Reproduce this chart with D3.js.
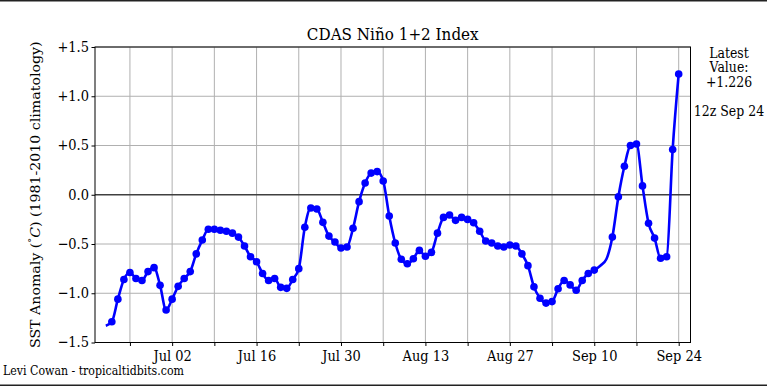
<!DOCTYPE html>
<html>
<head>
<meta charset="utf-8">
<script src="https://cdn.jsdelivr.net/npm/d3@7"></script>
<style>
  body { margin: 0; background: #fff; }
  svg text { font-family: "DejaVu Serif", serif; fill: #000; }
</style>
</head>
<body>
<div id="chart"></div>
<script>
// Daily 12z values, starting Jun 21
const startDay = "2025-06-21T12:00:00Z";
const anomalies = [
  -1.33, -1.29, -1.06, -0.86, -0.79, -0.85, -0.87, -0.78, -0.74, -0.92,
  -1.17, -1.06, -0.93, -0.85, -0.78, -0.60, -0.46, -0.35, -0.35, -0.36,
  -0.37, -0.39, -0.43, -0.52, -0.63, -0.68, -0.80, -0.87, -0.85, -0.94,
  -0.95, -0.86, -0.75, -0.33, -0.135, -0.145, -0.28, -0.42, -0.48, -0.54,
  -0.53, -0.34, -0.07, 0.12, 0.22, 0.235, 0.14, -0.215, -0.49, -0.655,
  -0.70, -0.65, -0.565, -0.625, -0.585, -0.39, -0.23, -0.205, -0.26, -0.23,
  -0.25, -0.285, -0.37, -0.47, -0.49, -0.52, -0.53, -0.51, -0.52, -0.60,
  -0.72, -0.935, -1.05, -1.10, -1.085, -0.955, -0.87, -0.915, -0.97, -0.87,
  -0.80, -0.765, -0.72, -0.655, -0.43, -0.02, 0.29, 0.50, 0.515, 0.09,
  -0.29, -0.44, -0.645, -0.63, 0.46, 1.226
];
// days drawn in the line but without a marker
const noMarkerDays = ["Jun 21", "Sep 11", "Sep 12"];

const xDomain = ["2025-06-19T17:00:00Z", "2025-09-26T11:00:00Z"];
const tickStart = "2025-06-25T12:00:00Z";
const tickCount = 14;
const yTicks = [-1.5, -1.0, -0.5, 0.0, 0.5, 1.0, 1.5];
const latestText = ["Latest", "Value:", "+1.226", "", "12z Sep 24"];

const width = 767, height = 386;
const margin = { top: 47, right: 76.5, bottom: 43.5, left: 95 };
const stretch = 1.12; // text in the picture is a bit taller than wide

const fmtDay = d3.utcFormat("%b %d");
const data = anomalies.map((v, i) => {
  const date = d3.utcDay.offset(new Date(startDay), i);
  return { date, value: v, marker: !noMarkerDays.includes(fmtDay(date)) };
});

const svg = d3.select("#chart").append("svg").attr("width", width).attr("height", height);

const x = d3.scaleUtc().domain(xDomain.map((d) => new Date(d))).range([margin.left, width - margin.right]);
const y = d3.scaleLinear().domain([-1.5, 1.5]).range([height - margin.bottom, margin.top]);

// weekly ticks, labels every other one
const weekTicks = d3.range(tickCount).map((i) => d3.utcDay.offset(new Date(tickStart), i * 7));

// grid
svg.append("g")
  .selectAll("line")
  .data(weekTicks)
  .join("line")
  .attr("x1", (d) => x(d)).attr("x2", (d) => x(d))
  .attr("y1", y(1.5)).attr("y2", y(-1.5))
  .attr("stroke", "#b0b0b0").attr("stroke-width", 1);

svg.append("g")
  .selectAll("line")
  .data(yTicks.filter((v) => v !== 0))
  .join("line")
  .attr("x1", x.range()[0]).attr("x2", x.range()[1])
  .attr("y1", (d) => y(d)).attr("y2", (d) => y(d))
  .attr("stroke", "#b0b0b0").attr("stroke-width", 1);

// zero line
svg.append("line")
  .attr("x1", x.range()[0]).attr("x2", x.range()[1])
  .attr("y1", y(0)).attr("y2", y(0))
  .attr("stroke", "#404040").attr("stroke-width", 1.5);

// axes
const xAxis = svg.append("g")
  .attr("transform", `translate(0,${y(-1.5)})`)
  .call(d3.axisBottom(x).tickValues(weekTicks).tickSize(3.5).tickSizeOuter(0)
    .tickFormat((d, i) => (i % 2 === 1 ? fmtDay(d) : "")));
xAxis.select(".domain").remove();
xAxis.selectAll("text").attr("font-size", 13).attr("y", 4).attr("dy", "0.93em")
  .attr("transform", `scale(1,${stretch})`);

const yAxis = svg.append("g")
  .attr("transform", `translate(${x.range()[0]},0)`)
  .call(d3.axisLeft(y).tickValues(yTicks).tickSize(3.5).tickSizeOuter(0)
    .tickFormat((d) => (d > 0 ? "+" : "") + d3.format(".1f")(d)));
yAxis.select(".domain").remove();
yAxis.selectAll("text").attr("font-size", 13).attr("x", -6).attr("dy", "0.3em")
  .attr("transform", `scale(1,${stretch})`);

// frame
svg.append("rect")
  .attr("x", x.range()[0]).attr("y", y(1.5))
  .attr("width", x.range()[1] - x.range()[0]).attr("height", y(-1.5) - y(1.5))
  .attr("fill", "none").attr("stroke", "#000").attr("stroke-width", 1);

// series
const line = d3.line().x((d) => x(d.date)).y((d) => y(d.value)).curve(d3.curveMonotoneX);
svg.append("path")
  .datum(data)
  .attr("d", line)
  .attr("fill", "none").attr("stroke", "#0000ff").attr("stroke-width", 2.6)
  .attr("stroke-linejoin", "round");

svg.append("g")
  .selectAll("circle")
  .data(data.filter((d) => d.marker))
  .join("circle")
  .attr("cx", (d) => x(d.date)).attr("cy", (d) => y(d.value))
  .attr("r", 3.8).attr("fill", "#0000ff");

// texts
function label(px, py, size, str, anchor) {
  return svg.append("text")
    .attr("transform", `translate(${px},${py}) scale(1,${stretch})`)
    .attr("text-anchor", anchor || "middle").attr("font-size", size)
    .text(str);
}

label((x.range()[0] + x.range()[1]) / 2, 39.5, 15.2, "CDAS Niño 1+2 Index");

const yl = svg.append("text")
  .attr("transform", `translate(40,${(y(1.5) + y(-1.5)) / 2}) rotate(-90) scale(1.09,1)`)
  .attr("text-anchor", "middle").attr("font-size", 13);
yl.append("tspan").text("SST Anomaly (");
yl.append("tspan").attr("font-size", 9).attr("dy", -5).text("°");
yl.append("tspan").attr("font-style", "italic").attr("dy", 5).text("C");
yl.append("tspan").text(") (1981-2010 climatology)");

latestText.forEach((t, i) => label(729, 57.5 + i * 14.7, 12.5, t));

label(3, 375, 11, "Levi Cowan - tropicaltidbits.com", "start");

// border lines top and bottom
svg.append("line").attr("x1", 0).attr("x2", width).attr("y1", 0.75).attr("y2", 0.75)
  .attr("stroke", "#222").attr("stroke-width", 1.5);
svg.append("line").attr("x1", 0).attr("x2", width).attr("y1", height - 0.75).attr("y2", height - 0.75)
  .attr("stroke", "#222").attr("stroke-width", 1.5);
</script>
</body>
</html>
